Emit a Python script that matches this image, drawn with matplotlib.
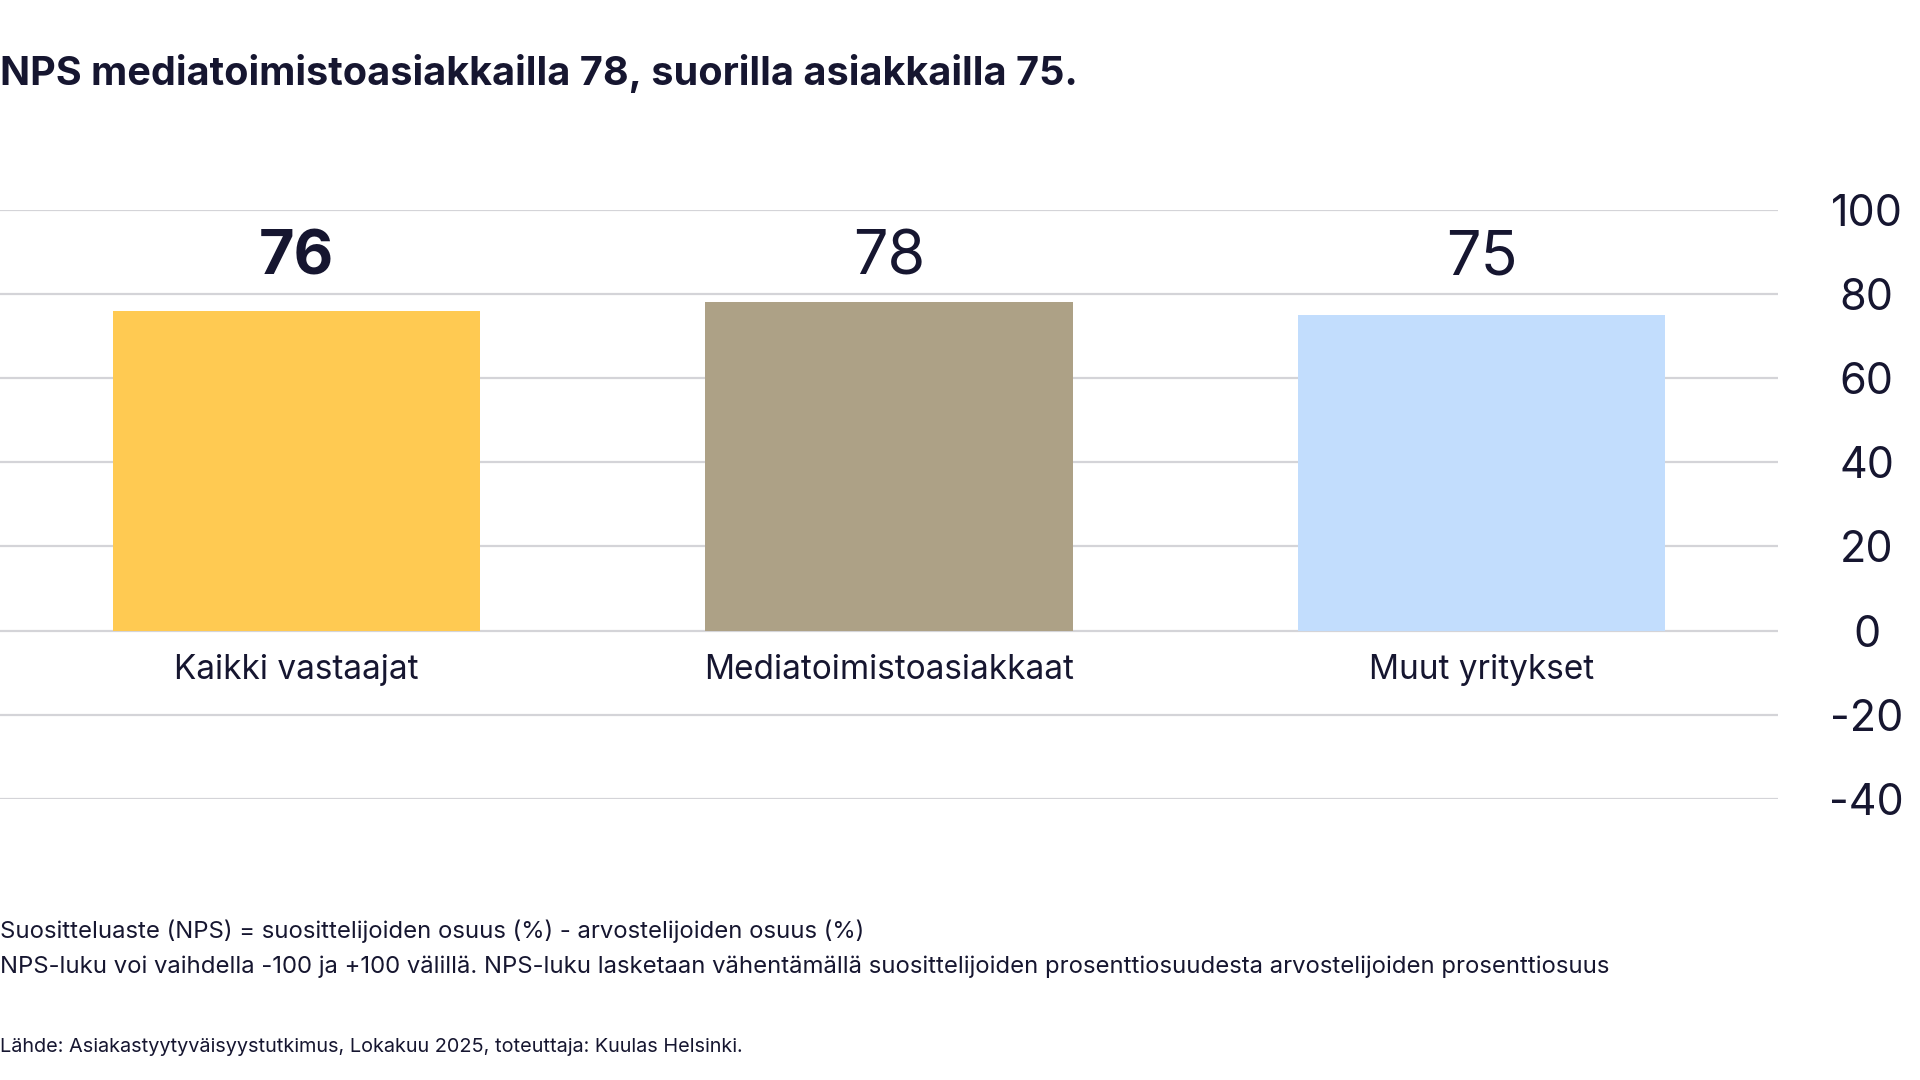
import matplotlib
matplotlib.use("Agg")
import matplotlib.pyplot as plt

categories = ["Kaikki vastaajat", "Mediatoimistoasiakkaat", "Muut yritykset"]
values = [76, 78, 75]
colors = ["#FFCA52", "#ADA186", "#C2DDFD"]
yticks = [-40, -20, 0, 20, 40, 60, 80, 100]
title = "NPS mediatoimistoasiakkailla 78, suorilla asiakkailla 75."
note1 = "Suositteluaste (NPS) = suosittelijoiden osuus (%) - arvostelijoiden osuus (%)"
note2 = ("NPS-luku voi vaihdella -100 ja +100 välillä. NPS-luku lasketaan vähentämällä "
         "suosittelijoiden prosenttiosuudesta arvostelijoiden prosenttiosuus")
source = "Lähde: Asiakastyytyväisyystutkimus, Lokakuu 2025, toteuttaja: Kuulas Helsinki."

TXT = "#161630"
GRID = "#D4D4D8"
FONT = "Inter"
plt.rcParams["font.family"] = [FONT, "DejaVu Sans"]

fig = plt.figure(figsize=(19.2, 10.8), dpi=100)
ax = fig.add_axes([0.0, 0.2602, 0.926, 0.5455])

x = list(range(len(categories)))
ax.bar(x, values, width=0.62, color=colors, zorder=3)
ax.set_xlim(-0.5, len(categories) - 0.5)
ax.set_ylim(-40, 100)
ax.set_yticks(yticks)
ax.set_yticklabels([str(t) for t in yticks])
ax.yaxis.tick_right()
ax.tick_params(axis="y", length=0, pad=64, labelsize=31, labelcolor=TXT)
for lab in ax.get_yticklabels():
    lab.set_horizontalalignment("center")
ax.set_xticks([])
ax.grid(axis="y", color=GRID, linewidth=1.6, zorder=0)
for s in ax.spines.values():
    s.set_visible(False)

for i, (xi, v) in enumerate(zip(x, values)):
    ax.text(xi, 88.4, str(v), ha="center", va="center", fontsize=44,
            fontweight="bold" if i == 0 else "normal", color=TXT)
    ax.text(xi, -9.3, categories[i], ha="center", va="center", fontsize=24, color=TXT)

fig.text(0.0, 0.932, title, ha="left", va="center", fontsize=28.5, fontweight="bold", color=TXT)
fig.text(0.0, 0.1375, note1, ha="left", va="center", fontsize=17.2, color=TXT)
fig.text(0.0, 0.1045, note2, ha="left", va="center", fontsize=17.2, color=TXT)
fig.text(0.0, 0.0307, source, ha="left", va="center", fontsize=14.3, color=TXT)

fig.savefig("out.png", dpi=100, facecolor="white")
